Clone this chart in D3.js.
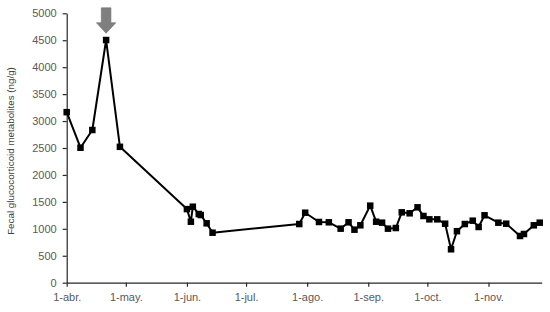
<!DOCTYPE html>
<html lang="es">
<head>
    <meta charset="UTF-8">
    <title>Fecal glucocorticoid metabolites</title>
    <script src="https://d3js.org/d3.v7.min.js"></script>
    <style>
        body { margin: 0; background: #fff; }
        .axis text {
            font-family: "Liberation Sans", Arial, sans-serif;
            font-size: 11px;
        }
        .axis path,
        .axis line {
            stroke: #262626;
            stroke-width: 1.2px;
        }
        .ytitle {
            font-family: "Liberation Sans", Arial, sans-serif;
            font-size: 9.8px;
            fill: #404040;
        }
    </style>
</head>
<body>
    <svg id="chart"></svg>
    <script>
        // sampling dates and concentrations (ng/g)
        const dates = [
            "2014-04-01", "2014-04-08", "2014-04-14", "2014-04-21", "2014-04-28",
            "2014-06-01", "2014-06-03", "2014-06-04", "2014-06-07", "2014-06-08", "2014-06-11", "2014-06-14",
            "2014-07-28", "2014-07-31", "2014-08-07", "2014-08-12", "2014-08-18", "2014-08-22", "2014-08-25", "2014-08-28",
            "2014-09-02", "2014-09-05", "2014-09-08", "2014-09-11", "2014-09-15", "2014-09-18", "2014-09-22", "2014-09-26", "2014-09-29",
            "2014-10-02", "2014-10-06", "2014-10-10", "2014-10-13", "2014-10-16", "2014-10-20", "2014-10-24", "2014-10-27", "2014-10-30",
            "2014-11-06", "2014-11-10", "2014-11-17", "2014-11-19", "2014-11-24", "2014-11-27"
        ];
        const values = [
            3165, 2505, 2834, 4504, 2522,
            1366, 1132, 1410, 1275, 1256, 1102, 928,
            1089, 1299, 1127, 1121, 1003, 1121, 984, 1065,
            1430, 1132, 1114, 1003, 1015, 1306, 1288, 1399, 1238,
            1176, 1176, 1095, 620, 956, 1089, 1151, 1034, 1251,
            1114, 1095, 867, 904, 1065, 1114
        ];
        const xTicks = ["2014-04-01", "2014-05-01", "2014-06-01", "2014-07-01", "2014-08-01", "2014-09-01", "2014-10-01", "2014-11-01"];
        const monthLabels = ["abr.", "may.", "jun.", "jul.", "ago.", "sep.", "oct.", "nov."];
        const yTicks = [0, 500, 1000, 1500, 2000, 2500, 3000, 3500, 4000, 4500, 5000];
        const peakDate = "2014-04-21"; // arrow marks this sample

        const parse = d3.timeParse("%Y-%m-%d");
        const data = dates.map((d, i) => ({ date: parse(d), value: values[i] }));

        const W = 550, H = 312;
        const margin = { top: 13.3, right: 8.3, bottom: 29.3, left: 66.7 };

        const svg = d3.select("#chart").attr("width", W).attr("height", H);
        const g = svg.append("g").attr("transform", `translate(${margin.left},${margin.top})`);
        const width = W - margin.left - margin.right;
        const height = H - margin.top - margin.bottom;

        const x = d3.scaleTime()
            .domain([parse("2014-04-01"), parse("2014-11-28")])
            .range([0, width]);
        const y = d3.scaleLinear().domain([0, 5000]).range([height, 0]);

        // axes
        g.append("g")
            .attr("class", "axis")
            .call(d3.axisLeft(y).tickValues(yTicks).tickFormat(d3.format("d"))
                .tickSize(4).tickPadding(6).tickSizeOuter(0))
            .selectAll("text").attr("fill", "#595959");

        g.append("g")
            .attr("class", "axis")
            .attr("transform", `translate(0,${height})`)
            .call(d3.axisBottom(x)
                .tickValues(xTicks.map(parse))
                .tickFormat((d, i) => "1-" + monthLabels[i])
                .tickSize(4).tickPadding(7).tickSizeOuter(0))
            .selectAll("text").attr("fill", "#595959");

        // y title
        g.append("text")
            .attr("class", "ytitle")
            .attr("transform", `translate(${-margin.left + 14},${151 - margin.top}) rotate(-90)`)
            .attr("text-anchor", "middle")
            .text("Fecal glucocorticoid metabolites (ng/g)");

        // line
        g.append("path")
            .datum(data)
            .attr("fill", "none")
            .attr("stroke", "#000")
            .attr("stroke-width", 2)
            .attr("stroke-linejoin", "round")
            .attr("d", d3.line().x(d => x(d.date)).y(d => y(d.value)));

        // square markers
        const s = 6.5;
        g.selectAll("rect.pt")
            .data(data)
            .enter().append("rect")
            .attr("class", "pt")
            .attr("x", d => x(d.date) - s / 2)
            .attr("y", d => y(d.value) - s / 2)
            .attr("width", s)
            .attr("height", s)
            .attr("fill", "#000");

        // grey arrow above the peak
        const peak = data.find(d => +d.date === +parse(peakDate));
        const ax = x(peak.date), tip = y(peak.value) - 6.7;
        g.append("path")
            .attr("fill", "#7f7f7f")
            .attr("stroke", "#6f6f6f")
            .attr("stroke-width", 0.6)
            .attr("d", d3.line()([
                [ax - 4.8, tip - 25.5], [ax + 4.8, tip - 25.5], [ax + 4.8, tip - 10.6],
                [ax + 9.7, tip - 10.6], [ax, tip], [ax - 9.7, tip - 10.6], [ax - 4.8, tip - 10.6]
            ]) + "Z");
    </script>
</body>
</html>
